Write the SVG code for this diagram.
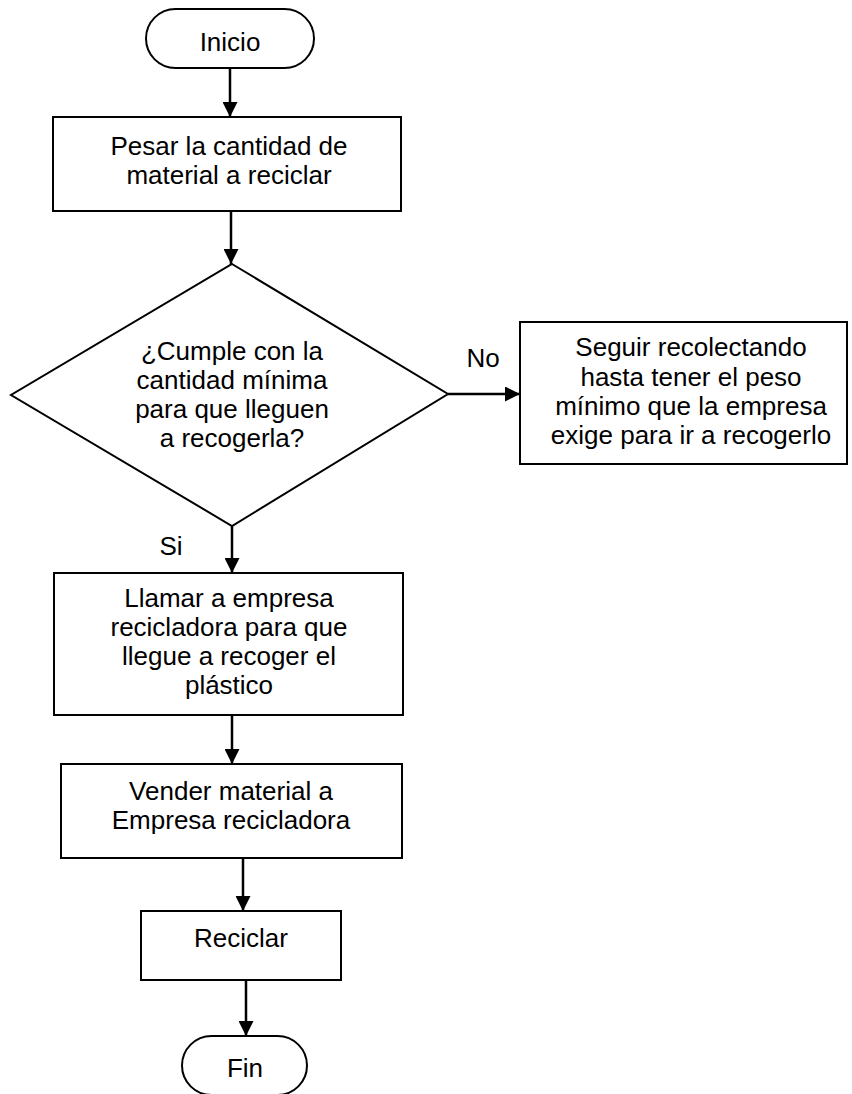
<svg xmlns="http://www.w3.org/2000/svg" width="852" height="1094" viewBox="0 0 852 1094">
<defs>
<marker id="ah" viewBox="0 0 10 10" refX="10" refY="5" markerWidth="15" markerHeight="15" markerUnits="userSpaceOnUse" orient="auto">
<path d="M0,0 L10,5 L0,10 z" fill="#000"/>
</marker>
<style>
.shape{fill:#fff;stroke:#000;stroke-width:2}
.t{font-family:"Liberation Sans",Arial,sans-serif;font-size:26px;fill:#000;text-anchor:middle}
.c{stroke:#000;stroke-width:2.5;fill:none;marker-end:url(#ah)}
</style>
</defs>
<rect width="852" height="1094" fill="#fff"/>
<g id="connectors">
<line class="c" x1="230" y1="68" x2="230" y2="117"/>
<line class="c" x1="231" y1="211" x2="231" y2="264"/>
<line class="c" x1="448" y1="394" x2="520" y2="394"/>
<line class="c" x1="232" y1="526" x2="232" y2="573"/>
<line class="c" x1="232" y1="715" x2="232" y2="764"/>
<line class="c" x1="243" y1="858" x2="243" y2="911"/>
<line class="c" x1="246" y1="980" x2="246" y2="1036"/>
<text class="t" x="483" y="367">No</text>
<text class="t" x="171" y="555">Si</text>
</g>
<g id="inicio">
<rect class="shape" x="146" y="9" width="168" height="59" rx="29.5" ry="29.5"/>
<text class="t" x="230" y="51">Inicio</text>
</g>
<g id="pesar">
<rect class="shape" x="53" y="117" width="348" height="94"/>
<text class="t" x="229" y="155">Pesar la cantidad de</text>
<text class="t" x="229" y="184">material a reciclar</text>
</g>
<g id="decision">
<polygon class="shape" points="232,264 448,394 232,526 11,395"/>
<text class="t" x="232" y="360">¿Cumple con la</text>
<text class="t" x="232" y="389">cantidad mínima</text>
<text class="t" x="232" y="418">para que lleguen</text>
<text class="t" x="232" y="447">a recogerla?</text>
</g>
<g id="seguir">
<rect class="shape" x="520" y="322" width="327" height="142"/>
<text class="t" x="691" y="356">Seguir recolectando</text>
<text class="t" x="691" y="386">hasta tener el peso</text>
<text class="t" x="691" y="415">mínimo que la empresa</text>
<text class="t" x="691" y="444">exige para ir a recogerlo</text>
</g>
<g id="llamar">
<rect class="shape" x="54" y="573" width="349" height="142"/>
<text class="t" x="229" y="607">Llamar a empresa</text>
<text class="t" x="229" y="636">recicladora para que</text>
<text class="t" x="229" y="665">llegue a recoger el</text>
<text class="t" x="229" y="694">plástico</text>
</g>
<g id="vender">
<rect class="shape" x="61" y="764" width="341" height="94"/>
<text class="t" x="231" y="800">Vender material a</text>
<text class="t" x="231" y="829">Empresa recicladora</text>
</g>
<g id="reciclar">
<rect class="shape" x="141" y="911" width="200" height="69"/>
<text class="t" x="241" y="947">Reciclar</text>
</g>
<g id="fin">
<rect class="shape" x="182" y="1036" width="125" height="59" rx="29.5" ry="29.5"/>
<text class="t" x="245" y="1077">Fin</text>
</g>
</svg>
